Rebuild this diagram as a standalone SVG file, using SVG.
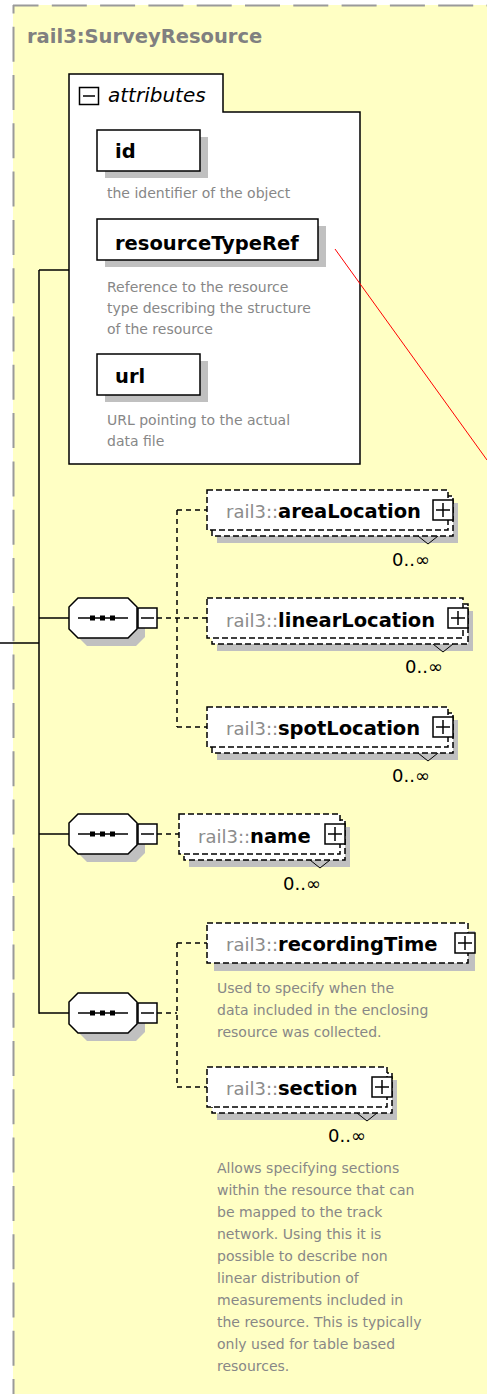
<svg xmlns="http://www.w3.org/2000/svg" width="487" height="1394" viewBox="0 0 487 1394">
<style>
text{font-family:"DejaVu Sans","Liberation Sans",sans-serif}
.title{font-size:19.5px;font-weight:bold;fill:#808080}
.desc{font-size:14px;fill:#878787}
.pfx{font-size:18px;fill:#8c8c8c}
.nm{font-size:19.5px;font-weight:bold;fill:#000}
.attr{font-size:19.5px;font-weight:bold;fill:#000}
.mult{font-size:18px;fill:#000}
.box{fill:#fff;stroke:#000;stroke-width:1.5}
.dbox{fill:#fff;stroke:#000;stroke-width:1.5;stroke-dasharray:6 3}
.shadow{fill:#c0c0c0}
.solid{fill:none;stroke:#000;stroke-width:1.5}
.dash{fill:none;stroke:#000;stroke-width:1.5;stroke-dasharray:5 4}
.sign{fill:none;stroke:#000;stroke-width:1.5}
.notch{fill:none;stroke:#000;stroke-width:1}
</style>
<defs>
<g id="seq">
<polygon class="shadow" points="87,606 136,606 145,615 145,637 136,646 87,646 78,637 78,615"/>
<polygon class="box" points="78,598 128,598 137,607 137,629 128,638 78,638 69,629 69,607"/>
<line x1="78" y1="618" x2="128" y2="618" stroke="#000" stroke-width="1.5"/>
<rect x="90" y="615.5" width="5" height="5" fill="#000"/>
<rect x="100" y="615.5" width="5" height="5" fill="#000"/>
<rect x="110" y="615.5" width="5" height="5" fill="#000"/>
<rect class="box" x="138" y="608" width="19" height="20"/>
<line class="sign" x1="141" y1="618" x2="154" y2="618"/>
</g>
<g id="plus">
<rect class="box" x="0" y="0" width="20" height="20"/>
<line class="sign" x1="3" y1="10" x2="17" y2="10"/>
<line class="sign" x1="10" y1="3" x2="10" y2="17"/>
</g>
</defs>
<g id="container">
<rect x="13" y="5" width="480" height="1395" fill="#ffffc4"/>
<line x1="13" y1="5.5" x2="487" y2="5.5" stroke="#9a9a9a" stroke-width="2" stroke-dasharray="35 13.3" stroke-dashoffset="9.5"/>
<line x1="13.5" y1="5" x2="13.5" y2="1394" stroke="#9a9a9a" stroke-width="2" stroke-dasharray="35 13.3" stroke-dashoffset="26.6"/>
<text class="title" x="27" y="43">rail3:SurveyResource</text>
</g>
<g id="connectors">
<line class="solid" x1="0" y1="643" x2="39" y2="643"/>
<line class="solid" x1="39" y1="270" x2="39" y2="1013.75"/>
<line class="solid" x1="39" y1="270" x2="69" y2="270"/>
<line class="solid" x1="39" y1="618" x2="69" y2="618"/>
<line class="solid" x1="39" y1="834" x2="69" y2="834"/>
<line class="solid" x1="39" y1="1013" x2="69" y2="1013"/>
<path class="dash" d="M157,618 H207 M177,510 V727 M177,510 H207 M177,727 H207"/>
<path class="dash" d="M157,834 H179"/>
<path class="dash" d="M157,1013 H177 M177,943 V1087 M177,943 H207 M177,1087 H207"/>
</g>
<g id="attributes">
<path class="box" d="M69,74 H223 V112 H360 V464 H69 Z"/>
<rect class="box" x="79.5" y="87.5" width="19" height="17"/>
<line class="sign" x1="83" y1="96" x2="95" y2="96"/>
<text x="108" y="102" font-size="20" font-style="italic" fill="#000">attributes</text>
</g>
<g id="attr-id">
<rect class="shadow" x="105" y="137" width="103" height="41"/>
<rect class="box" x="97" y="130" width="103" height="41"/>
<text class="attr" x="115" y="158">id</text>
<text class="desc" x="107" y="198">the identifier of the object</text>
</g>
<g id="attr-resourceTypeRef">
<rect class="shadow" x="105" y="226" width="221" height="41"/>
<rect class="box" x="97" y="219" width="221" height="41"/>
<text class="attr" x="115" y="250">resourceTypeRef</text>
<text class="desc" x="107" y="292">Reference to the resource</text>
<text class="desc" x="107" y="313">type describing the structure</text>
<text class="desc" x="107" y="334">of the resource</text>
</g>
<g id="attr-url">
<rect class="shadow" x="105" y="361" width="103" height="41"/>
<rect class="box" x="97" y="354" width="103" height="41"/>
<text class="attr" x="115" y="383">url</text>
<text class="desc" x="107" y="425">URL pointing to the actual</text>
<text class="desc" x="107" y="446">data file</text>
</g>
<g id="sequence1">
<use href="#seq"/>
</g>
<g id="sequence2">
<use href="#seq" transform="translate(0,216)"/>
</g>
<g id="sequence3">
<use href="#seq" transform="translate(0,395)"/>
</g>
<g id="areaLocation">
<rect class="shadow" x="217" y="503" width="241" height="40"/>
<rect class="dbox" x="212" y="496" width="241" height="40"/>
<rect class="dbox" x="207" y="490" width="241" height="40"/>
<use href="#plus" transform="translate(433,500)"/>
<polyline class="notch" points="418,536 428,544 438,536"/>
<text x="226" y="518"><tspan class="pfx">rail3::</tspan><tspan class="nm">areaLocation</tspan></text>
<text class="mult" x="392" y="566">0..∞</text>
</g>
<g id="linearLocation">
<rect class="shadow" x="217" y="611" width="256" height="40"/>
<rect class="dbox" x="212" y="604" width="256" height="40"/>
<rect class="dbox" x="207" y="598" width="256" height="40"/>
<use href="#plus" transform="translate(448,608)"/>
<polyline class="notch" points="433,644 443,652 453,644"/>
<text x="226" y="627"><tspan class="pfx">rail3::</tspan><tspan class="nm">linearLocation</tspan></text>
<text class="mult" x="405" y="673">0..∞</text>
</g>
<g id="spotLocation">
<rect class="shadow" x="217" y="720" width="241" height="40"/>
<rect class="dbox" x="212" y="713" width="241" height="40"/>
<rect class="dbox" x="207" y="707" width="241" height="40"/>
<use href="#plus" transform="translate(433,717)"/>
<polyline class="notch" points="418,753 428,761 438,753"/>
<text x="226" y="735"><tspan class="pfx">rail3::</tspan><tspan class="nm">spotLocation</tspan></text>
<text class="mult" x="392" y="782">0..∞</text>
</g>
<g id="name">
<rect class="shadow" x="189" y="827" width="161" height="40"/>
<rect class="dbox" x="184" y="820" width="161" height="40"/>
<rect class="dbox" x="179" y="814" width="161" height="40"/>
<use href="#plus" transform="translate(325,824)"/>
<polyline class="notch" points="310,860 320,868 330,860"/>
<text x="198" y="843"><tspan class="pfx">rail3::</tspan><tspan class="nm">name</tspan></text>
<text class="mult" x="283" y="890">0..∞</text>
</g>
<g id="recordingTime">
<rect class="shadow" x="214" y="931" width="261" height="40"/>
<rect class="dbox" x="207" y="923" width="261" height="40"/>
<use href="#plus" transform="translate(455,933)"/>
<text x="226" y="951"><tspan class="pfx">rail3::</tspan><tspan class="nm">recordingTime</tspan></text>
<text class="desc" x="217" y="993">Used to specify when the</text>
<text class="desc" x="217" y="1015">data included in the enclosing</text>
<text class="desc" x="217" y="1037">resource was collected.</text>
</g>
<g id="section">
<rect class="shadow" x="217" y="1080" width="180" height="40"/>
<rect class="dbox" x="212" y="1073" width="180" height="40"/>
<rect class="dbox" x="207" y="1067" width="180" height="40"/>
<use href="#plus" transform="translate(372,1077)"/>
<polyline class="notch" points="357,1113 367,1121 377,1113"/>
<text x="226" y="1095"><tspan class="pfx">rail3::</tspan><tspan class="nm">section</tspan></text>
<text class="mult" x="328" y="1142">0..∞</text>
<text class="desc" x="217" y="1173">Allows specifying sections</text>
<text class="desc" x="217" y="1195">within the resource that can</text>
<text class="desc" x="217" y="1217">be mapped to the track</text>
<text class="desc" x="217" y="1239">network. Using this it is</text>
<text class="desc" x="217" y="1261">possible to describe non</text>
<text class="desc" x="217" y="1283">linear distribution of</text>
<text class="desc" x="217" y="1305">measurements included in</text>
<text class="desc" x="217" y="1327">the resource. This is typically</text>
<text class="desc" x="217" y="1349">only used for table based</text>
<text class="desc" x="217" y="1371">resources.</text>
</g>
<g id="overlay-line">
<line x1="335" y1="249" x2="487" y2="460" stroke="#ff0000" stroke-width="1"/>
</g>
</svg>
